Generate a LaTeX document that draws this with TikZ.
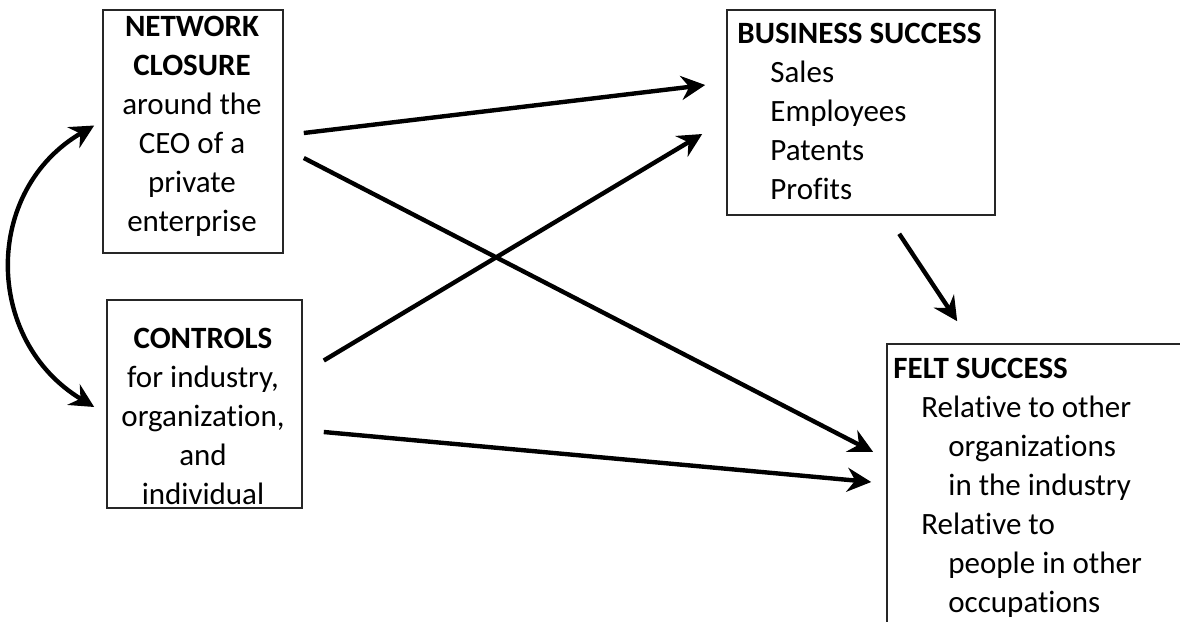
\documentclass[tikz,border=0pt]{standalone}
\usepackage{fontspec}
\setmainfont{Carlito}[Ligatures=NoCommon]
\usetikzlibrary{arrows.meta,calc}

\tikzset{
  >={Stealth[length=12pt,width=12pt,inset=4pt]},
  box/.style={draw=black!85, line width=0.8pt, inner sep=0pt},
  txt/.style={inner sep=0pt, font=\fontsize{15.5}{19.5}\selectfont},
  arr/.style={->, line width=2.2pt},
}

\begin{document}
\begin{tikzpicture}[x=0.5pt,y=-0.5pt]
            \useasboundingbox (0,0) rectangle (1180,622);

            % boxes
            \node[box, minimum width=90pt, minimum height=121.5pt] (net) at (193,131.5) {};
            \node[box, minimum width=97.5pt, minimum height=104pt] (ctl) at (204.5,404) {};
            \node[box, minimum width=134pt, minimum height=102.5pt] (biz) at (861,112.5) {};
            \node[box, minimum width=156.5pt, minimum height=148pt] (felt) at (1043.5,492) {};

            % texts
            \node[txt, align=center] (nettext) at (192,126)
                {\textbf{NETWORK}\\\textbf{CLOSURE}\\around the\\CEO of a\\private\\enterprise};
            \node[txt, align=center] (ctltext) at (203,416)
                {\textbf{CONTROLS}\\for industry,\\organization,\\and\\individual};
            \node[txt, align=left, anchor=west] (biztext) at (737,111)
                {\textbf{BUSINESS SUCCESS}\\\hspace{16.5pt}Sales\\\hspace{16.5pt}Employees\\\hspace{16.5pt}Patents\\\hspace{16.5pt}Profits};
            \node[txt, align=left, anchor=west] (felttext) at (893,488)
                {\textbf{FELT SUCCESS}\\\hspace{14pt}Relative to other\\\hspace{27.5pt}organizations\\\hspace{27.5pt}in the industry\\\hspace{14pt}Relative to\\\hspace{27.5pt}people in other\\\hspace{27.5pt}occupations};

            % paths
            \draw[arr] ($(net.east)+(20,1.5)$) -- ($(biz.west)+(-21,-27.5)$);
            \draw[arr] ($(net.east)+(20,26.5)$) -- ($(felt.west)+(-13,-40)$);
            \draw[arr] ($(ctl.east)+(21,-43.5)$) -- ($(biz.west)+(-24,21.5)$);
            \draw[arr] ($(ctl.east)+(21,28)$) -- ($(felt.west)+(-15,-10)$);
            \draw[arr] ($(biz.south west)+(173,18)$) -- ($(felt.north west)+(71,-22)$);
            \draw[arr, <->] ($(net.west)+(-8,-6)$) .. controls ($(net.west)+(-119,58.5)$)
                and ($(ctl.west)+(-123,-64)$) .. ($(ctl.west)+(-12,3)$);
        \end{tikzpicture}
\end{document}
